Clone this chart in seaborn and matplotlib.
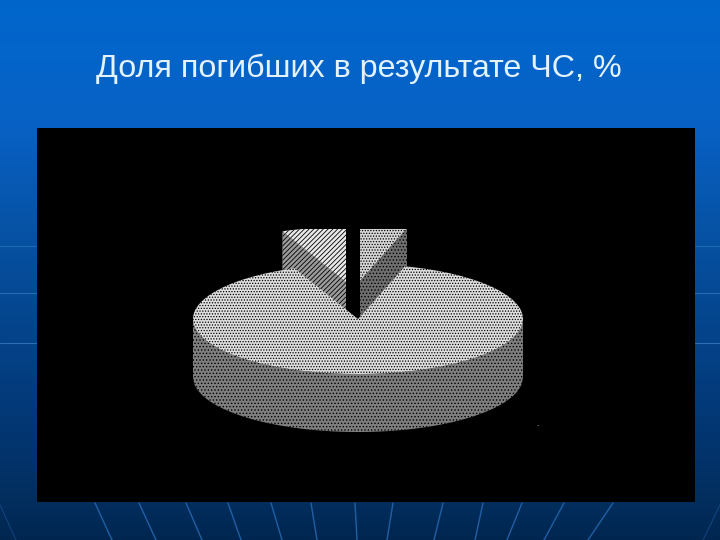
import numpy as np
import pandas as pd
import seaborn as sns
import matplotlib
matplotlib.use("Agg")
import matplotlib.pyplot as plt

TITLE = "Доля погибших в результате ЧС, %"
categories = ["Группа 1", "Группа 2", "Группа 3"]
shares = [6.3, 89.1, 4.6]
df = pd.DataFrame({"category": categories, "share": shares})

sns.set_theme(style="white")
plt.rcParams["font.family"] = ["Liberation Sans", "DejaVu Sans"]
plt.rcParams["hatch.linewidth"] = 0.6

W, H = 720, 540
fig = plt.figure(figsize=(W / 100, H / 100), dpi=100)

# slide background
bg = fig.add_axes([0, 0, 1, 1])
stops = np.array([0, 120, 246, 400, 500, 540])
stop_rgb = np.array([[0, 102, 204], [8, 98, 198], [6, 80, 160], [3, 58, 122], [2, 46, 94], [0, 38, 80]]) / 255
ys = np.arange(H)
grad = np.stack([np.interp(ys, stops, stop_rgb[:, i]) for i in range(3)], axis=1)
bg.imshow(grad[:, None, :], extent=(0, W, H, 0), aspect="auto", interpolation="bilinear")
line_col = "#2a6cb8"
fan_top = [95, 139, 186, 228, 271, 311, 355, 393, 443, 483, 522, 564, 613]
fan_bot = [112, 156, 202, 241, 282, 317, 357, 387, 434, 475, 507, 544, 588]
for a, b in zip(fan_top, fan_bot):
    bg.plot([a, b], [503, 540], color=line_col, lw=1.0, alpha=0.8)
bg.plot([0, 16], [505, 540], color=line_col, lw=0.8, alpha=0.4)
bg.plot([720, 703], [505, 540], color=line_col, lw=0.8, alpha=0.4)
for y, al in zip([246, 293, 343], [0.4, 0.55, 0.6]):
    bg.plot([0, 37], [y, y], color="#4a8ad0", lw=0.8, alpha=al)
    bg.plot([695, 720], [y, y], color="#4a8ad0", lw=0.8, alpha=al)
bg.set_xlim(0, W)
bg.set_ylim(H, 0)
bg.axis("off")
bg.text(359, 69, TITLE, color="#e4f2fc", fontsize=23.2, ha="center", va="center")

# black chart panel; data units are pixels, y stretched by SQ to flatten the pie
SQ = 3.0
L, R, T, B = 37, 695, 128, 502
ax = fig.add_axes([L / W, 1 - B / H, (R - L) / W, (B - T) / H])
RAD = 165
DEPTH = 58 * SQ


def py(y):
    return (H - y) * SQ


pal = sns.color_palette(["#ffffff", "#dedede", "#d6d6d6"])


def slice_at(idx, cx, cy, face, hatch, zorder):
    wedges, _ = ax.pie(df["share"], colors=pal, startangle=90, radius=RAD, center=(cx, py(cy)),
                       wedgeprops={"linewidth": 0})
    for i, w in enumerate(wedges):
        if i != idx:
            w.remove()
    w = wedges[idx]
    w.set(facecolor=face, edgecolor="#000000", hatch=hatch, linewidth=0, zorder=zorder)
    return w


def extrude(w, angle, face, hatch, zorder):
    cx, cy = w.center
    t = np.deg2rad(angle)
    ex, ey = cx + RAD * np.cos(t), cy + RAD * np.sin(t)
    return ax.fill([cx, ex, ex, cx], [cy, ey, ey - DEPTH, cy - DEPTH], facecolor=face,
                   edgecolor="#000000", hatch=hatch, linewidth=0, zorder=zorder)[0]


# raised pieces, cut flat along their top edge by a panel-coloured band
wl = slice_at(0, 346, 282, "#e8e8e8", "///////", 3)
extrude(wl, wl.theta2, "#9a9a9a", "///////", 2)
wr = slice_at(2, 360, 281, pal[2], "......", 3)
extrude(wr, wr.theta1, "#6e6e6e", ".....", 2)
ax.axhspan(py(229.5), py(T), color="black", linewidth=0, zorder=4)

# main disc
wm = slice_at(1, 358, 319, pal[1], "......", 6)
x = np.linspace(wm.center[0] - RAD, wm.center[0] + RAD, 300)
half = np.sqrt(np.clip(RAD**2 - (x - wm.center[0]) ** 2, 0, None))
ax.fill_between(x, wm.center[1] - half, wm.center[1] - half - DEPTH, facecolor="#7e7e7e",
                edgecolor="#000000", hatch=".....", linewidth=0, zorder=5)

ax.text(537, py(424), ".", color="#dddddd", fontsize=6, ha="center", va="center")

ax.set_aspect("auto")
ax.set_xlim(L, R)
ax.set_ylim(py(B), py(T))
ax.set_frame_on(True)
ax.set_facecolor("black")
for s in ax.spines.values():
    s.set_visible(False)
ax.set_xticks([])
ax.set_yticks([])

fig.savefig("out.png", dpi=100)
